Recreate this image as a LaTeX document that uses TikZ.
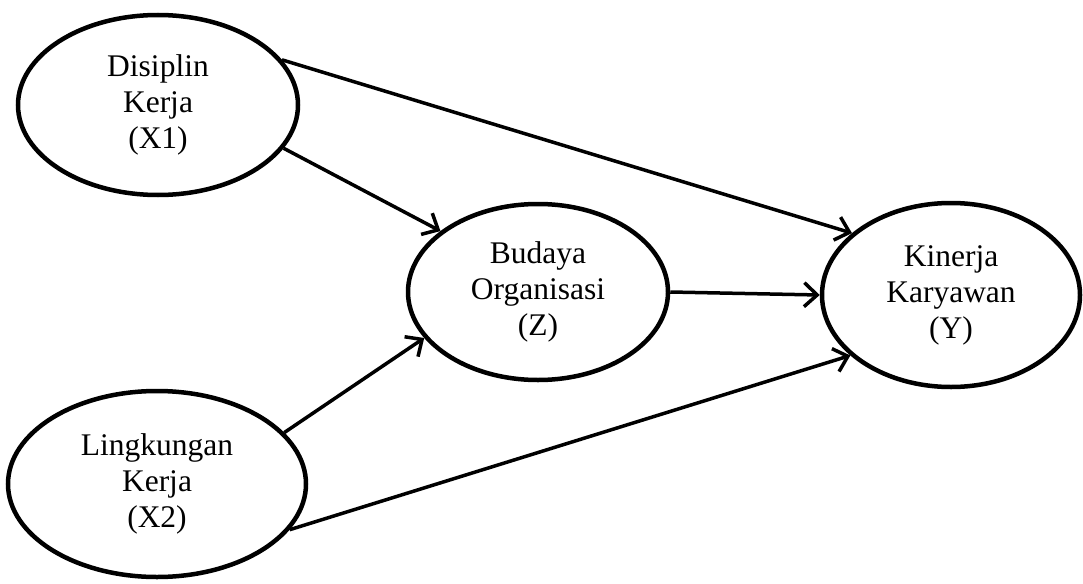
\documentclass[tikz,border=0pt]{standalone}
\usepackage{fontspec}
\setmainfont{Liberation Serif}
\usetikzlibrary{shapes.geometric,arrows.meta}

\begin{document}
\begin{tikzpicture}[x=1pt,y=-1pt,
        var/.style={ellipse, draw, line width=4.5pt, inner sep=0pt, align=center, font=\fontsize{31.5}{36}\selectfont},
        link/.style={line width=3.5pt, -{Straight Barb[length=13pt,width=24pt]}}]
        \useasboundingbox (0,0) rectangle (1083,583);
        \node[var, minimum width=280pt, minimum height=180pt] (x1) at (158,105) {Disiplin\\Kerja\\(X1)};
        \node[var, minimum width=298pt, minimum height=186pt] (x2) at (157,484) {Lingkungan\\Kerja\\(X2)};
        \node[var, minimum width=260pt, minimum height=176pt] (z) at (538,292) {Budaya\\Organisasi\\(Z)};
        \node[var, minimum width=258pt, minimum height=184pt] (y) at (951,295) {Kinerja\\Karyawan\\(Y)};
        \draw[link] (x1.20) -- (y.148);
        \draw[link] (x1.-19) -- (z.148);
        \draw[link] (x2.22) -- (z.202);
        \draw[link] (x2.-19) -- (y.211);
        \draw[link] (z.0) -- (y.180);
    \end{tikzpicture}
\end{document}
